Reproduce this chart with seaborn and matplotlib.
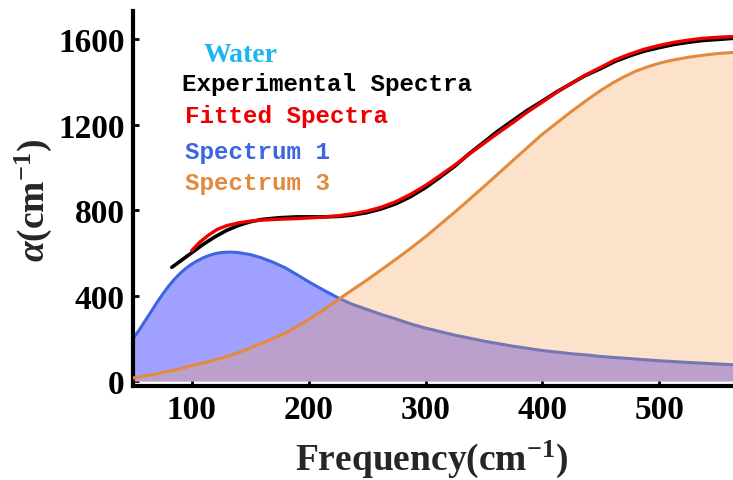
import matplotlib
matplotlib.use("Agg")
import matplotlib.pyplot as plt
import seaborn as sns
import pandas as pd

# ---- data ----
freq_comp = [50, 55, 60, 65, 70, 75, 80, 85, 90, 95, 100, 105, 110, 115, 120, 125,
             130, 135, 140, 150, 160, 170, 180, 190, 200, 212, 225, 237, 250, 262,
             275, 287, 300, 325, 350, 375, 400, 425, 440, 450, 460, 470, 480, 490,
             500, 510, 525, 540, 550, 565]
spectrum1 = [200, 238, 280, 322, 365, 405, 442, 475, 503, 527, 547, 563, 577, 588,
             596, 601, 603, 603, 601, 592, 576, 555, 530, 498, 465, 428, 390, 360,
             335, 312, 290, 268, 248, 215, 187, 163, 143, 128, 121, 115, 111, 107,
             103, 99, 95, 92, 87, 83, 80, 76]
spectrum3 = [15, 19, 24, 29, 34, 40, 46, 52, 58, 65, 72, 79, 85, 92, 100, 107,
             115, 124, 133, 155, 178, 200, 225, 255, 288, 330, 380, 425, 473, 520,
             571, 620, 675, 790, 910, 1033, 1155, 1262, 1322, 1360, 1394, 1424,
             1450, 1470, 1487, 1500, 1515, 1526, 1532, 1538]

freq_exp = [83, 90, 100, 110, 120, 130, 140, 150, 160, 175, 190, 200, 212, 225, 237,
            250, 262, 275, 287, 300, 312, 325, 337, 350, 362, 375, 387, 400, 412,
            425, 437, 450, 462, 475, 487, 500, 512, 525, 537, 550, 565]
experimental = [532, 560, 600, 640, 675, 705, 728, 745, 756, 764, 768, 768, 768,
                770, 776, 788, 805, 830, 862, 905, 952, 1005, 1062, 1118, 1170, 1220,
                1266, 1310, 1352, 1393, 1430, 1462, 1495, 1522, 1543, 1560, 1574,
                1585, 1593, 1598, 1604]

freq_fit = [100, 107, 115, 122, 130, 140, 150, 160, 175, 190, 200, 212, 225, 237,
            250, 262, 275, 287, 300, 312, 325, 337, 350, 362, 375, 387, 400, 412,
            425, 437, 450, 462, 475, 487, 500, 512, 525, 537, 550, 565]
fitted = [610, 650, 685, 710, 727, 740, 748, 753, 757, 760, 763, 767, 773, 782,
          795, 813, 840, 873, 915, 960, 1010, 1060, 1112, 1160, 1210, 1258, 1305,
          1350, 1393, 1432, 1468, 1502, 1530, 1552, 1570, 1584, 1595, 1603, 1608,
          1612]

x_ticks = [100, 200, 300, 400, 500]
y_ticks = [0, 400, 800, 1200, 1600]

legend_labels = ["Experimental Spectra", "Fitted Spectra", "Spectrum 1", "Spectrum 3"]
title_label = "Water"

# ---- styling ----
sns.set_style("ticks")
plt.rcParams["font.family"] = ["Liberation Serif", "DejaVu Serif"]
plt.rcParams["mathtext.fontset"] = "custom"
plt.rcParams["mathtext.rm"] = "Liberation Serif:bold"
plt.rcParams["mathtext.it"] = "Liberation Serif:italic:bold"
plt.rcParams["mathtext.bf"] = "Liberation Serif:bold"

W, H = 733, 481
fig = plt.figure(figsize=(W / 100, H / 100), dpi=100)
ax = fig.add_axes([133.2 / W, (H - 387) / H, (W - 133.2) / W, (387 - 12) / H])

c_blue = "#3d66e0"
c_orange = "#e38b3d"
c_red = "#ee0000"

df1 = pd.DataFrame({"freq": freq_comp, "alpha": spectrum1})
df3 = pd.DataFrame({"freq": freq_comp, "alpha": spectrum3})
dfe = pd.DataFrame({"freq": freq_exp, "alpha": experimental})
dff = pd.DataFrame({"freq": freq_fit, "alpha": fitted})

# Spectrum 1 (fill + line)
ax.fill_between(df1["freq"], 0, df1["alpha"], color="#a0a0ff", linewidth=0, zorder=1)
sns.lineplot(data=df1, x="freq", y="alpha", ax=ax, color=c_blue, linewidth=2.2,
             zorder=2, estimator=None, sort=False)
# Spectrum 3 (translucent fill over spectrum 1)
ax.fill_between(df3["freq"], 0, df3["alpha"], color="#f7a050", alpha=0.3,
                linewidth=0, zorder=3)
sns.lineplot(data=df3, x="freq", y="alpha", ax=ax, color=c_orange, linewidth=2.2,
             zorder=4, estimator=None, sort=False)
# Experimental and fitted
sns.lineplot(data=dfe, x="freq", y="alpha", ax=ax, color="black", linewidth=2.6,
             zorder=5, estimator=None, sort=False)
sns.lineplot(data=dff, x="freq", y="alpha", ax=ax, color=c_red, linewidth=2.4,
             zorder=6, estimator=None, sort=False)

ax.set_xlim(50, 563)
ax.set_ylim(-23, 1731)
ax.set_xticks(x_ticks)
ax.set_yticks(y_ticks)
ax.set_xticklabels([str(t) for t in x_ticks], fontsize=24, fontweight="bold")
ax.set_yticklabels([str(t) for t in y_ticks], fontsize=24, fontweight="bold")
ax.tick_params(direction="in", length=4, width=2, pad=6, colors="black")
for s in ["top", "right"]:
    ax.spines[s].set_visible(False)
for s in ["left", "bottom"]:
    ax.spines[s].set_linewidth(3)
    ax.spines[s].set_color("black")

ax.set_xlabel(r"Frequency(cm$^{-1}$)", fontsize=27, fontweight="bold", va="center")
ax.set_ylabel(r"$\alpha$(cm$^{-1}$)", fontsize=27, fontweight="bold", va="center")
ax.xaxis.set_label_coords((431.7 - 133.2) / (W - 133.2), -(459 - 387) / 375)
ax.yaxis.set_label_coords(-(133.2 - 33) / (W - 133.2), (387 - 200) / 375)

def ftext(px, py, s, **kw):
    fig.text(px / W, 1 - py / H, s, **kw)

ftext(241, 61.7, title_label, color="#1eb4ee", fontsize=20, fontweight="bold",
      ha="center", va="baseline")
mono = ["Liberation Mono", "DejaVu Sans Mono"]
ftext(182, 91.5, legend_labels[0], color="black", fontsize=17.5, fontweight="bold",
      family=mono, va="baseline")
ftext(185, 123, legend_labels[1], color=c_red, fontsize=17.5, fontweight="bold",
      family=mono, va="baseline")
ftext(185, 159, legend_labels[2], color=c_blue, fontsize=17.5, fontweight="bold",
      family=mono, va="baseline")
ftext(185, 190, legend_labels[3], color=c_orange, fontsize=17.5, fontweight="bold",
      family=mono, va="baseline")

fig.savefig("out.png", dpi=100)
